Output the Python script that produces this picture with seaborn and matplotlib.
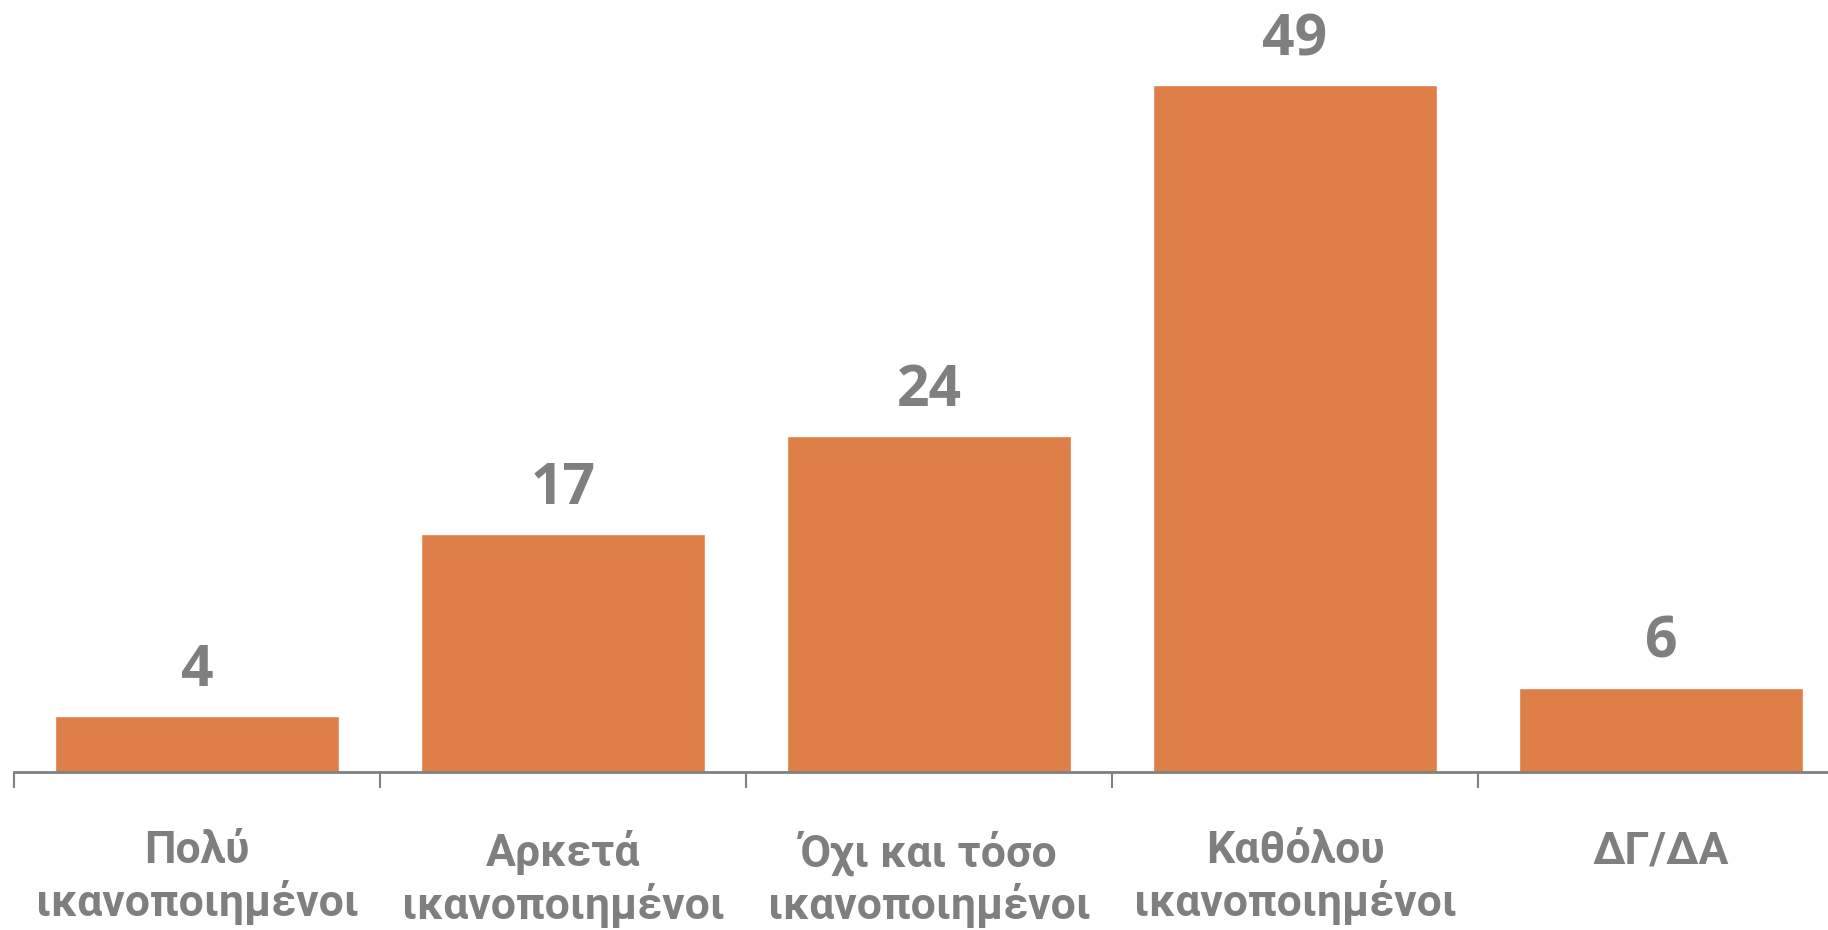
import matplotlib
matplotlib.use("Agg")
import matplotlib.pyplot as plt
import seaborn as sns
import pandas as pd
import numpy as np

categories = ["Πολύ\nικανοποιημένοι", "Αρκετά\nικανοποιημένοι", "Όχι και τόσο\nικανοποιημένοι",
              "Καθόλου\nικανοποιημένοι", "ΔΓ/ΔΑ"]
values = [4, 17, 24, 49, 6]

bar_color = "#DD7F47"
text_gray = "#7F7F7F"
axis_gray = "#808080"

sns.set_theme(style="white")
plt.rcParams['font.family'] = ['Open Sans', 'DejaVu Sans']

df = pd.DataFrame({"cat": categories, "val": values})

fig = plt.figure(figsize=(18.28, 9.30), dpi=100)
ax = fig.add_axes([14/1828, 158/930, 1830/1828, 772/930])
sns.barplot(data=df, x="cat", y="val", color=bar_color, saturation=1, width=0.774, ax=ax)

ax.set_ylim(0, 55.1)
ax.set_xlim(-0.5, len(categories) - 0.5)
for s in ["top", "right", "left"]:
    ax.spines[s].set_visible(False)
ax.spines["bottom"].set_color(axis_gray)
ax.spines["bottom"].set_linewidth(2)
ax.set_yticks([])
ax.set_xlabel("")
ax.set_ylabel("")

ax.set_xticks(np.arange(len(categories)))
ax.set_xticklabels(categories, fontweight="bold", color=text_gray, fontsize=32,
                   family=['Roboto', 'Open Sans', 'DejaVu Sans'], linespacing=1.2)
ax.tick_params(axis="x", which="major", length=0, pad=42)
ax.set_xticks(np.arange(len(categories) + 1) - 0.5, minor=True)
ax.tick_params(axis="x", which="minor", length=11.5, width=1.5, color=axis_gray, direction="out", bottom=True)

for i, v in enumerate(values):
    ax.annotate(str(v), xy=(i, v), xytext=(0, 11.5), textcoords="offset points",
                ha="center", va="bottom", fontsize=41, fontweight="bold", color=text_gray,
                family=['Open Sans', 'DejaVu Sans'])

fig.savefig("out.png", dpi=100)
